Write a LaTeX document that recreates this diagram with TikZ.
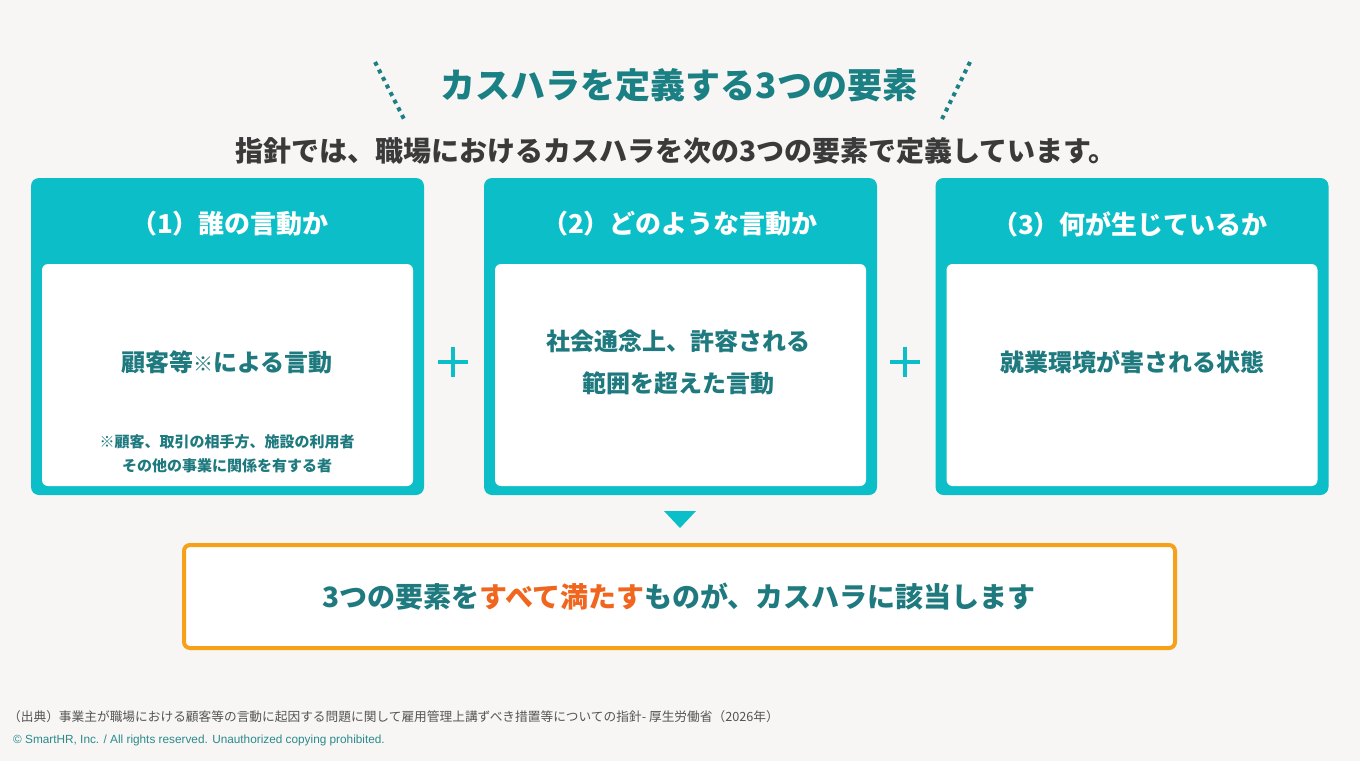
\documentclass[tikz,border=0pt]{standalone}
\usepackage{fontspec}
\setmainfont{Noto Sans CJK JP}
\newfontfamily\latinf{Liberation Sans}
\definecolor{bg}{HTML}{F7F6F4}
\definecolor{cyanbox}{HTML}{0CBEC7}
\definecolor{titleteal}{HTML}{1A8084}
\definecolor{bodyteal}{HTML}{1E7A7E}
\definecolor{subgray}{HTML}{3A3A3A}
\definecolor{orangeline}{HTML}{F7A11A}
\definecolor{orangetxt}{HTML}{F0661E}
\definecolor{footgray}{HTML}{555555}
\definecolor{copyteal}{HTML}{2A8A8C}
\tikzset{
  outerbox/.style={fill=cyanbox, rounded corners=8pt, minimum width=393pt, minimum height=317pt, inner sep=0pt},
  innerbox/.style={fill=white, rounded corners=6pt, minimum width=371pt, minimum height=222pt, inner sep=0pt},
  hdr/.style={text=white, font=\bfseries\fontsize{26}{30}\selectfont, inner sep=0pt},
  body/.style={text=bodyteal, font=\bfseries\fontsize{24}{42}\selectfont, align=center, inner sep=0pt},
  note/.style={text=bodyteal, font=\bfseries\fontsize{15}{24}\selectfont, align=center, inner sep=0pt},
  dotline/.style={draw=titleteal, line width=4pt, dash pattern=on 4pt off 4.5pt},
  plusline/.style={draw=cyanbox, line width=4.5pt},
}
\begin{document}
\begin{tikzpicture}[x=1pt,y=-1pt]
\useasboundingbox (0,0) rectangle (1360,761);
\fill[bg] (0,0) rectangle (1360,761);

% title and dotted lines
\node[text=titleteal, font=\bfseries\fontsize{35}{40}\selectfont, inner sep=0pt] (title) at (679,85) {カスハラを定義する3つの要素};
\coordinate (l1) at (375,62); \coordinate (l2) at (405,121);
\coordinate (r1) at (970,62); \coordinate (r2) at (941,121);
\draw[dotline] (l1) -- (l2);
\draw[dotline] (r1) -- (r2);

\node[text=subgray, font=\bfseries\fontsize{28}{32}\selectfont, inner sep=0pt] (sub) at (676,151) {指針では、職場におけるカスハラを次の3つの要素で定義しています。};

% boxes
\node[outerbox] (b1) at (227.5,336.5) {};
\node[outerbox] (b2) at (680.5,336.5) {};
\node[outerbox] (b3) at (1132,336.5) {};
\node[innerbox] (i1) at (227.5,375) {};
\node[innerbox] (i2) at (680.5,375) {};
\node[innerbox] (i3) at (1132,375) {};

\node[hdr] (h1) at (230,224) {（1）誰の言動か};
\node[hdr] (h2) at (680,224) {（2）どのような言動か};
\node[hdr] (h3) at (1130,224) {（3）何が生じているか};

\node[body] (t1) at (227,362) {顧客等{\fontsize{20}{20}\selectfont ※}による言動};
\node[note] (n1) at (227,454) {※顧客、取引の相手方、施設の利用者\\その他の事業に関係を有する者};
\node[body] (t2) at (678,362) {社会通念上、許容される\\範囲を超えた言動};
\node[body] (t3) at (1132,362) {就業環境が害される状態};

% plus signs
\node[inner sep=0pt, minimum size=30pt] (p1) at (453,362) {};
\node[inner sep=0pt, minimum size=30pt] (p2) at (905,362) {};
\draw[plusline] (p1.west) -- (p1.east);
\draw[plusline] (p1.north) -- (p1.south);
\draw[plusline] (p2.west) -- (p2.east);
\draw[plusline] (p2.north) -- (p2.south);

% triangle
\coordinate (tri) at (680,519);
\fill[cyanbox] ([shift={(-16,-8)}]tri) -- ([shift={(16,-8)}]tri) -- ([shift={(0,9)}]tri) -- cycle;

% conclusion box
\node[draw=orangeline, line width=4pt, fill=white, rounded corners=6pt, minimum width=991pt, minimum height=103pt, inner sep=0pt] (conc) at (679.5,596.5) {};
\node[font=\bfseries\fontsize{28}{32}\selectfont, inner sep=0pt] (ct) at (679,597) {{\color{bodyteal}3つの要素を}{\color{orangetxt}すべて満たす}{\color{bodyteal}ものが、カスハラに該当します}};

% footer
\node[anchor=west, text=footgray, font=\fontsize{12.7}{15}\selectfont, inner sep=0pt] (src) at (8,717) {（出典）事業主が職場における顧客等の言動に起因する問題に関して雇用管理上講ずべき措置等についての指針- 厚生労働省（2026年）};
\node[anchor=west, text=copyteal, font=\latinf\fontsize{11.8}{13}\selectfont, inner sep=0pt] (copy) at (13,740) {© SmartHR, Inc. / All rights reserved. Unauthorized copying prohibited.};
\end{tikzpicture}
\end{document}
